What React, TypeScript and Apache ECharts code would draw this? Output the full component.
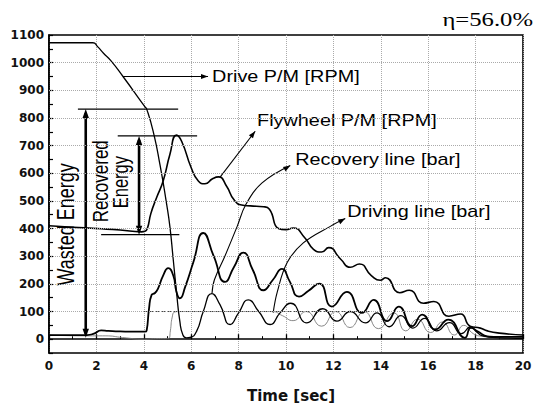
import React, { useEffect, useRef } from "react";
import * as echarts from "echarts";

// ---- tick labels ----
const yTicks = [0, 100, 200, 300, 400, 500, 600, 700, 800, 900, 1000, 1100];

// ---- Drive P/M [RPM] ----
const driveT = [0, 1.85, 2.05, 2.3, 2.6, 3.13, 4.05, 4.12, 4.4, 4.68, 4.96, 5.1, 5.24, 5.38, 5.52, 5.65, 5.8, 5.95, 6.23, 6.51, 6.87, 7.22, 7.64, 8.0, 8.41, 8.85, 9.33, 9.75, 10.2, 10.88, 11.55, 12.15, 12.71, 13.35, 13.84, 14.35, 14.85, 15.35, 15.85, 16.35, 16.9, 17.4, 17.8, 18.0, 18.3, 19, 20];
const driveV = [1072, 1072, 1058, 1034, 1008, 949, 840, 833, 750, 632, 490, 408, 290, 171, 65, 15, 5, 6, 29, 100, 165, 124, 53, 95, 142, 100, 53, 95, 130, 59, 110, 65, 100, 59, 95, 45, 85, 40, 75, 30, 60, 20, 45, 30, 12, 5, 3];

// ---- Flywheel P/M [RPM] ----
const flyT = [0, 1, 2, 3, 3.9, 4.05, 4.15, 4.3, 4.55, 4.82, 5.1, 5.38, 5.6, 6.0, 6.3, 6.58, 6.9, 7.15, 7.5, 7.8, 8.13, 8.5, 9.05, 9.3, 9.68, 10.0, 10.3, 10.8, 11.16, 11.5, 11.8, 12.3, 12.71, 13.1, 13.6, 13.98, 14.2, 14.8, 15.2, 15.8, 16.24, 16.87, 17.37, 17.77, 18.2, 18.5, 19, 20];
const flyV = [410, 405, 400, 395, 388, 390, 400, 455, 514, 573, 668, 738, 715, 620, 572, 562, 580, 587, 552, 505, 485, 482, 479, 470, 400, 396, 402, 366, 325, 315, 331, 290, 260, 272, 230, 213, 222, 168, 177, 130, 136, 83, 91, 47, 40, 30, 22, 15];

// ---- Recovery line [bar] ----
const recT = [0, 1.6, 1.9, 2.2, 2.5, 3.0, 4.05, 4.12, 4.22, 4.33, 4.47, 4.6, 4.82, 5.03, 5.24, 5.38, 5.52, 5.75, 6.09, 6.51, 6.95, 7.43, 7.8, 8.2, 8.6, 9.05, 9.45, 9.83, 10.15, 10.55, 10.95, 11.4, 11.94, 12.57, 13.2, 13.7, 14.27, 14.76, 15.32, 15.75, 16.3, 16.85, 17.55, 17.8, 18.1, 18.5, 19, 20];
const recV = [15, 15, 20, 32, 30, 28, 27, 31, 110, 160, 167, 183, 231, 257, 231, 171, 148, 190, 278, 384, 300, 207, 260, 313, 250, 177, 215, 254, 210, 154, 175, 201, 118, 171, 95, 142, 65, 118, 47, 89, 35, 71, 5, 41, 28, 10, 8, 8];

// ---- Driving line [bar] ----
const drvT = [0, 1.6, 2.4, 3.1, 4.0, 4.5, 5.05, 5.12, 5.2, 5.3, 5.5, 9.4, 9.85, 10.3, 10.85, 11.5, 12.1, 12.7, 13.3, 13.9, 14.55, 15.05, 15.55, 16.1, 16.6, 17.1, 17.5, 17.9, 18.3, 19, 20];
const drvV = [15, 12, 12, 6, 0, 2, 3, 30, 80, 98, 100, 100, 85, 67, 100, 47, 100, 42, 100, 38, 95, 30, 72, 24, 62, 15, 50, 20, 10, 5, 3];

// ---- reference level ----
const refT = [4.0, 13.6];
const refV = [100, 100];

// ---- annotations (data coordinates) ----
const hLines = [[1.22, 5.45, 832], [2.9, 6.25, 735], [2.2, 5.5, 378]];
const vArrows = [[1.55, 5, 832], [3.8, 378, 735]];
const driveLeader = [[3.12, 950], [6.71, 950]];
const flyLeader = [[7.22, 586], [8.7, 752]];
const recLeader = [[6.88, 167], [6.98, 215], [7.43, 302], [7.94, 408], [8.3, 486], [8.99, 565], [10.18, 628]];
const drvLeader = [[9.46, 96], [9.63, 170], [10.05, 277], [10.73, 348], [11.87, 408], [12.5, 436]];
const labels = [
  { text: "Drive P/M [RPM]", at: [6.88, 950] },
  { text: "Flywheel P/M [RPM]", at: [8.78, 790] },
  { text: "Recovery line [bar]", at: [10.39, 648] },
  { text: "Driving line [bar]", at: [12.58, 462] },
];

export default function App() {
  const ref = useRef<HTMLDivElement>(null);
  useEffect(() => {
    const chart = echarts.init(ref.current!, null, { renderer: "svg" });
    const zip = (t: number[], v: number[]) => t.map((x, i) => [x, v[i]]);
    const line = (name: string, t: number[], v: number[], color: string, width: number, extra: any = {}) => ({
      type: "line",
      name,
      data: zip(t, v),
      showSymbol: false,
      symbol: "none",
      smooth: 0.55,
      lineStyle: { color, width },
      silent: true,
      ...extra,
    });
    const tickFont = { color: "#111", fontFamily: "DejaVu Sans", fontWeight: "bold", fontSize: 12 };
    chart.setOption({
      animation: false,
      grid: { left: 49, right: 12, top: 35, bottom: 48, show: true, borderColor: "#000", borderWidth: 1.6, backgroundColor: "transparent" },
      xAxis: {
        type: "value",
        min: 0,
        max: 20,
        interval: 2,
        name: "Time [sec]",
        nameLocation: "middle",
        nameGap: 35,
        nameTextStyle: { color: "#111", fontFamily: "DejaVu Sans", fontWeight: "bold", fontSize: 15, padding: [0, 0, 0, 10] },
        axisLine: { lineStyle: { color: "#000", width: 1.6 } },
        axisTick: { inside: true, length: 5, lineStyle: { color: "#000", width: 1.3 } },
        minorTick: { show: true, splitNumber: 2, length: 3, lineStyle: { color: "#000", width: 1 } },
        axisLabel: { ...tickFont, margin: 7 },
        splitLine: { show: true, lineStyle: { color: "#aaa", type: "dotted", width: 1 } },
      },
      yAxis: {
        type: "value",
        min: -50,
        max: 1100,
        interval: 50,
        axisLine: { show: true, lineStyle: { color: "#000", width: 1.6 } },
        axisTick: { show: true, inside: true, length: 4, lineStyle: { color: "#000", width: 1.2 } },
        axisLabel: { ...tickFont, margin: 5, formatter: (v: number) => (yTicks.includes(v) ? String(v) : "") },
        splitLine: { show: false },
      },
      series: [
        line("Driving line [bar]", drvT, drvV, "#7a7a7a", 0.9, {
          markLine: {
            silent: true,
            symbol: "none",
            label: { show: false },
            lineStyle: { color: "#aaa", type: "dotted", width: 1 },
            data: yTicks.slice(1, -1).map((v) => ({ yAxis: v })),
          },
        }),
        line("ref", refT, refV, "#444", 1, { smooth: false, lineStyle: { color: "#444", width: 1, type: [4, 2] } }),
        line("Recovery line [bar]", recT, recV, "#000", 1.8),
        line("Drive P/M [RPM]", driveT, driveV, "#000", 1.3),
        line("Flywheel P/M [RPM]", flyT, flyV, "#000", 1.6),
      ],
    });

    const P = (p: number[]) => chart.convertToPixel({ xAxisIndex: 0, yAxisIndex: 0 }, p) as number[];
    const head = (tip: number[], from: number[], len = 8, w = 3.2) => {
      const dx = tip[0] - from[0];
      const dy = tip[1] - from[1];
      const L = Math.hypot(dx, dy) || 1;
      const ux = dx / L;
      const uy = dy / L;
      const bx = tip[0] - ux * len;
      const by = tip[1] - uy * len;
      return {
        type: "polygon",
        silent: true,
        shape: { points: [tip, [bx - uy * w, by + ux * w], [bx + uy * w, by - ux * w]] },
        style: { fill: "#000" },
      };
    };
    const g: any[] = [];
    hLines.forEach(([a, b, v]) => {
      const p1 = P([a, v]);
      const p2 = P([b, v]);
      g.push({ type: "line", silent: true, shape: { x1: p1[0], y1: p1[1], x2: p2[0], y2: p2[1] }, style: { stroke: "#000", lineWidth: 1.2 } });
    });
    vArrows.forEach(([t, a, b]) => {
      const p1 = P([t, a]);
      const p2 = P([t, b]);
      g.push({ type: "line", silent: true, shape: { x1: p1[0], y1: p1[1] - 4, x2: p2[0], y2: p2[1] + 4 }, style: { stroke: "#000", lineWidth: 2.6 } });
      g.push(head(p2, p1, 9, 3.2));
      g.push(head(p1, p2, 9, 3.2));
    });
    const leader = (pts: number[][], smooth: number) => {
      const px = pts.map(P);
      g.push({ type: "polyline", silent: true, shape: { points: px, smooth }, style: { stroke: "#000", lineWidth: 1.1, fill: null } });
      g.push(head(px[px.length - 1], px[px.length - 2], 7, 2.6));
    };
    leader(driveLeader, 0);
    leader(flyLeader, 0);
    leader(recLeader, 0.4);
    leader(drvLeader, 0.4);
    labels.forEach((l) => {
      const p = P(l.at);
      g.push({
        type: "text",
        silent: true,
        x: p[0],
        y: p[1],
        scaleX: 1.24,
        style: { text: l.text, fontSize: 16, fontFamily: "Liberation Sans", fill: "#000", align: "left", verticalAlign: "middle" },
      });
    });
    const rot = (text: string, at: number[], size: number) => {
      const p = P(at);
      g.push({
        type: "text",
        silent: true,
        x: p[0],
        y: p[1],
        rotation: Math.PI / 2,
        scaleY: 1.3,
        style: { text, fontSize: size, fontFamily: "Liberation Sans", fill: "#000", align: "center", verticalAlign: "middle" },
      });
    };
    rot("Wasted Energy", [0.7, 415], 18);
    rot("Recovered", [2.15, 571], 17);
    rot("Energy", [3.04, 568], 16.5);
    g.push({
      type: "text",
      silent: true,
      x: 533,
      y: 20,
      scaleX: 1.3,
      style: { text: "η=56.0%", fontSize: 19, fontFamily: "Liberation Serif", fill: "#000", align: "right", verticalAlign: "middle" },
    });
    chart.setOption({ graphic: { elements: g } });

    return () => chart.dispose();
  }, []);
  return <div ref={ref} style={{ position: "absolute", left: 0, top: 0, width: 535, height: 408, background: "#fff" }} />;
}
